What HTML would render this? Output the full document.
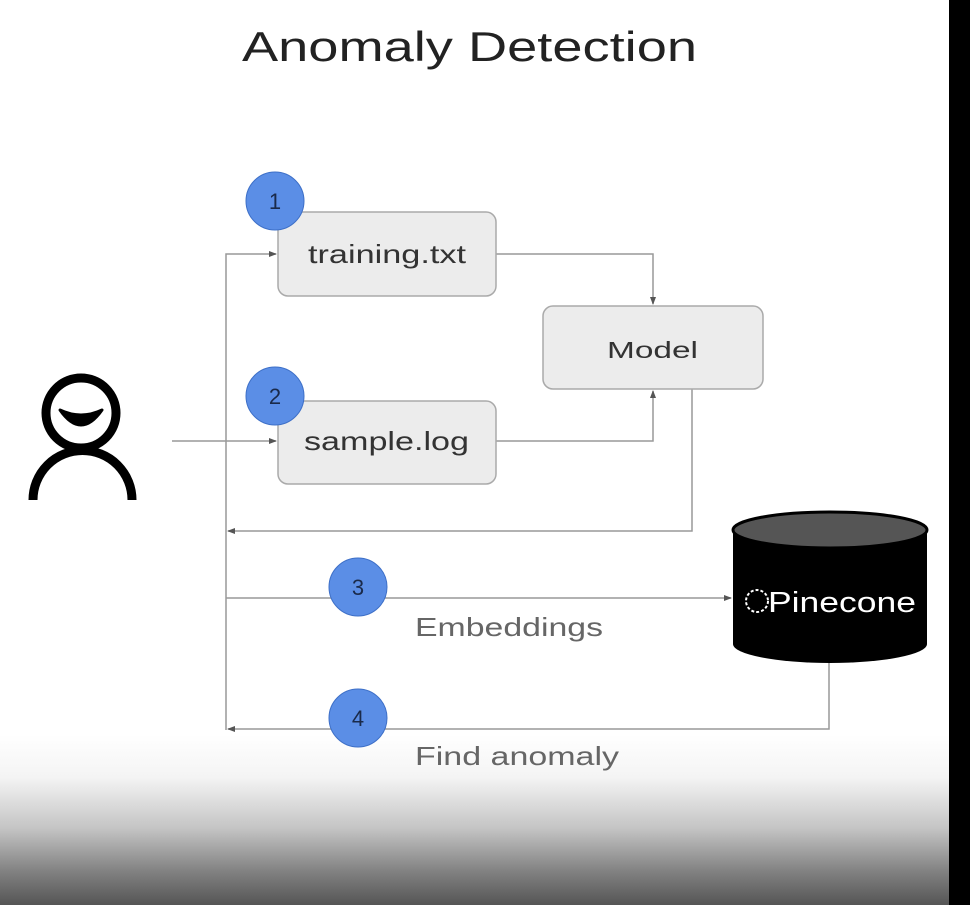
<!DOCTYPE html>
<html><head><style>
body{margin:0;width:970px;height:905px;overflow:hidden;background:#fff;position:relative;font-family:"Liberation Sans",sans-serif}
</style></head><body>
<div style="position:absolute;left:0;top:735px;width:970px;height:170px;background:linear-gradient(#fff 0%,#f4f4f4 25%,#c4c4c4 55%,#828282 80%,#555 100%)"></div>
<div style="position:absolute;left:949px;top:0;width:21px;height:905px;background:#000"></div>
<svg width="970" height="905" style="position:absolute;left:0;top:0">
<defs><marker id="a" markerWidth="8" markerHeight="8" refX="7" refY="4" orient="auto" markerUnits="userSpaceOnUse"><path d="M0,1 L8,4 L0,7z" fill="#555"/></marker></defs>
<text x="242" y="61" font-size="42" textLength="455" lengthAdjust="spacingAndGlyphs" fill="#222">Anomaly Detection</text>
<g fill="none" stroke="#999" stroke-width="1.5">
<path d="M226,730 V254 H276" marker-end="url(#a)"/>
<path d="M172,441 H276" marker-end="url(#a)"/>
<path d="M496,254 H653 V304" marker-end="url(#a)"/>
<path d="M496,441 H653 V391" marker-end="url(#a)"/>
<path d="M692,389 V531 H228" marker-end="url(#a)"/>
<path d="M226,598 H731" marker-end="url(#a)"/>
<path d="M829,662 V729 H228" marker-end="url(#a)"/>
</g>
<g fill="#ececec" stroke="#aaa" stroke-width="1.5">
<rect x="278" y="212" width="218" height="84" rx="10"/>
<rect x="278" y="401" width="218" height="83" rx="10"/>
<rect x="543" y="306" width="220" height="83" rx="10"/>
</g>
<g font-size="26" fill="#333" lengthAdjust="spacingAndGlyphs">
<text x="308" y="263" textLength="158" lengthAdjust="spacingAndGlyphs">training.txt</text>
<text x="304" y="450" textLength="165" lengthAdjust="spacingAndGlyphs">sample.log</text>
<text x="607" y="358" font-size="23" textLength="91" lengthAdjust="spacingAndGlyphs">Model</text>
</g>
<g fill="#5b8ee6" stroke="#3d6fc7" stroke-width="1">
<circle cx="275" cy="201" r="29"/><circle cx="275" cy="396" r="29"/>
<circle cx="358" cy="587" r="29"/><circle cx="358" cy="718" r="29"/>
</g>
<g font-size="22" fill="#1a2a4a" text-anchor="middle">
<text x="275" y="209">1</text><text x="275" y="404">2</text>
<text x="358" y="595">3</text><text x="358" y="726">4</text>
</g>
<g font-size="26" fill="#666">
<text x="415" y="636" textLength="188" lengthAdjust="spacingAndGlyphs">Embeddings</text>
<text x="415" y="765" textLength="204" lengthAdjust="spacingAndGlyphs">Find anomaly</text>
</g>
<g fill="none" stroke="#000" stroke-width="9">
<circle cx="81" cy="413" r="35"/>
<path d="M33,500 A48,48 0 0 1 132,500"/>
</g>
<path d="M60,410 Q81,440 102,410 Q81,420 60,410 Z" fill="#000" stroke="#000" stroke-width="3" stroke-linejoin="round"/>
<path d="M733,530 V644 A97,19 0 0 0 927,644 V530 Z" fill="#000"/>
<ellipse cx="830" cy="530" rx="97" ry="18" fill="#555" stroke="#000" stroke-width="3"/>
<circle cx="757" cy="601" r="11" fill="none" stroke="#fff" stroke-width="2" stroke-dasharray="3 2"/>
<text x="768" y="612" font-size="29" fill="#fff" textLength="148" lengthAdjust="spacingAndGlyphs">Pinecone</text>
</svg>
</body></html>
